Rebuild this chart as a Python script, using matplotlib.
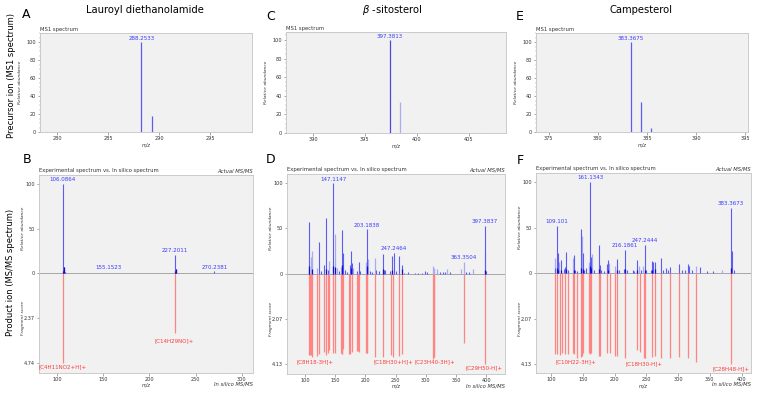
import matplotlib
matplotlib.use("Agg")
import matplotlib.pyplot as plt
from matplotlib.ticker import MultipleLocator

# ---- MS1 (precursor) spectra ----
a_mz = [288.2533, 289.2567]
a_int = [100, 18]
c_mz = [397.3813, 398.3847]
c_int = [100, 33]
e_mz = [383.3675, 384.3709, 385.3740]
e_int = [100, 33, 4]

# ---- MS/MS: Lauroyl diethanolamide (B) ----
b_mz = [106.0864, 107.09, 108.09, 109.1, 122.0, 155.1523, 227.2011, 228.2, 229.2, 270.2381, 290.0]
b_int = [100, 7, 2, 1, 0.5, 0.6, 21, 5, 1.5, 2.5, 0.5]
b_dark_mz = [106.0864, 107.09, 227.2011, 228.2]
b_dark_int = [3, 7, 3, 5]
b_frag_mz = [106.0864, 227.2011]
b_frag_score = [4.74, 3.16]
b_score_ticks = ["2.37", "4.74"]
b_tags = ["106.0864", "155.1523", "227.2011", "270.2381"]
b_tag_mz = [106.0864, 155.1523, 227.2011, 270.2381]
b_tag_y = [100, 2, 21, 2]
b_frag_tags = ["[C4H11NO2+H]+", "[C14H29NO]+"]
b_frag_tag_mz = [106.0864, 227.2011]
b_frag_tag_y = [-104.8, -75]

# ---- MS/MS: beta-sitosterol (D) ----
d_mz = [106.3, 107.4, 124.0, 126.7, 131.7, 135.5, 137.7, 147.1, 157.0, 162.0, 163.1, 166.4,
        169.2, 174.1, 175.8, 177.4, 185.7, 189.0, 191.2, 203.3, 207.7, 211.0, 217.7, 222.1,
        229.8, 231.5, 233.1, 240.8, 243.6, 246.9, 250.2, 256.3, 260.1, 264.0, 271.1, 282.2,
        287.7, 293.2, 298.7, 302.6, 323.5, 327.9, 331.8, 340.0, 366.5, 372.0, 397.38, 398.5, 400.1]
d_int = [5, 57, 35, 3, 10, 62, 4, 100, 3, 48, 23, 4,
         2, 9, 25, 12, 3, 13, 3, 49, 3, 2, 4, 3,
         22, 4, 4, 3, 20, 23, 3, 19, 10, 1, 2, 1,
         1, 1, 3, 2, 2, 2, 2, 2, 2, 2, 53, 25, 3]
d_light_mz = [109.6, 111.8, 120.1, 139.9, 149.3, 153.7, 160.3, 180.2, 201.1, 205.0, 215.5,
              312.5, 314.1, 318.0, 334.5, 357.7, 363.35, 377.5]
d_light_int = [18, 25, 6, 14, 44, 6, 7, 6, 13, 16, 17,
               8, 6, 5, 5, 5, 13, 5]
d_dark_mz = [107.4, 111.8, 135.5, 147.1, 149.3, 162.0, 175.8, 203.3, 229.8, 243.6, 260.1, 397.4]
d_dark_int = [8, 5, 5, 8, 7, 10, 6, 8, 5, 4, 5, 4]
d_frag_mz = [106.3, 108.0, 110.2, 111.8, 120.6, 122.9, 131.1, 135.5, 137.7, 140.5, 147.1, 149.3,
             159.2, 160.9, 162.0, 163.1, 173.6, 175.2, 178.0, 186.8, 188.5, 190.1, 200.6, 202.2,
             203.3, 215.5, 229.8, 243.0, 246.3, 256.3, 260.1, 311.4, 313.0, 314.1, 362.7, 397.4]
d_frag_score = [3.72, 3.72, 3.72, 3.84, 3.76, 3.68, 3.59, 3.72, 3.63, 3.51, 3.63, 3.63,
                3.63, 3.68, 3.68, 3.47, 3.68, 3.68, 3.59, 3.55, 3.55, 3.59, 3.63, 3.63,
                3.63, 3.84, 3.80, 3.74, 3.80, 3.76, 3.70, 3.90, 3.82, 3.82, 3.18, 4.13]
d_score_ticks = ["2.07", "4.13"]
d_tags = ["147.1147", "203.1838", "247.2464", "363.3504", "397.3837"]
d_tag_mz = [147.1147, 203.1838, 247.2464, 363.3504, 397.3837]
d_tag_y = [100, 49, 23, 13, 53]
d_frag_tags = ["[C8H18-3H]+", "[C18H30+H]+", "[C23H40-3H]+", "[C29H50-H]+"]
d_frag_tag_mz = [116.8, 246.3, 315.2, 396.8]
d_frag_tag_y = [-97.8, -97.8, -97.8, -105]

# ---- MS/MS: Campesterol (F) ----
f_mz = [106.5, 109.1, 110.2, 115.0, 120.3, 121.8, 123.9, 126.5, 135.9, 137.5, 140.1, 147.5,
        150.1, 151.7, 154.3, 161.13, 162.7, 166.9, 175.3, 176.9, 179.0, 182.7, 187.9, 189.5,
        203.2, 207.4, 214.2, 216.19, 218.9, 228.4, 231.0, 234.7, 241.5, 247.24, 249.4, 256.8,
        258.8, 261.0, 263.6, 273.6, 276.7, 280.9, 284.6, 287.7, 301.9, 305.6, 310.9, 316.1,
        317.7, 321.4, 334.5, 346.1, 355.5, 383.37, 384.9, 388.5]
f_int = [6, 52, 22, 14, 5, 7, 23, 3, 20, 3, 2, 48,
         22, 3, 6, 100, 18, 3, 31, 9, 4, 2, 10, 14,
         16, 3, 5, 26, 3, 3, 2, 15, 3, 31, 4, 3,
         13, 12, 12, 17, 3, 6, 4, 7, 10, 3, 4, 10,
         8, 3, 7, 2, 2, 72, 24, 4]
f_light_mz = [105.4, 112.6, 133.8, 149.0, 159.0, 164.3, 191.6, 201.1, 238.9, 245.2, 328.2, 368.7]
f_light_int = [17, 12, 17, 41, 12, 21, 11, 8, 8, 8, 8, 3]
f_dark_mz = [109.1, 110.2, 115.0, 123.9, 135.9, 147.5, 150.1, 161.1, 162.7, 175.3, 189.5,
             203.2, 216.2, 234.7, 247.2, 258.8, 263.6, 383.4]
f_dark_int = [6, 4, 3, 5, 4, 6, 5, 8, 6, 5, 4, 4, 5, 3, 4, 4, 5, 6]
f_frag_mz = [105.4, 109.1, 113.8, 117.0, 122.3, 125.9, 133.8, 135.4, 140.1, 147.0, 149.0, 150.6,
             159.0, 161.1, 162.7, 175.3, 176.9, 187.4, 192.1, 200.5, 203.2, 215.8, 235.7, 239.9,
             245.7, 247.3, 258.3, 263.6, 273.6, 287.7, 301.9, 316.1, 328.2, 383.4]
f_frag_score = [3.66, 3.67, 3.71, 3.60, 3.66, 3.66, 3.63, 3.67, 3.83, 3.78, 3.75, 3.63,
                3.63, 3.66, 3.63, 3.74, 3.74, 3.60, 3.60, 3.74, 3.74, 3.86, 3.47, 3.58,
                3.86, 3.86, 3.78, 3.74, 3.86, 3.86, 3.78, 3.83, 4.04, 4.13]
f_score_ticks = ["2.07", "4.13"]
f_tags = ["109.101", "161.1343", "216.1861", "247.2444", "383.3673"]
f_tag_mz = [109.101, 161.1343, 216.1861, 247.2444, 383.3673]
f_tag_y = [52, 100, 26, 31, 72]
f_frag_tags = ["[C10H22-3H]+", "[C18H30-H]+", "[C28H48-H]+"]
f_frag_tag_mz = [139.1, 246.2, 383.4]
f_frag_tag_y = [-97.8, -99, -105]

BG = "#f1f1f1"
EDGE = "#c4c4c4"
BLUE = "#5c5cf2"
LIGHT = "#a8abf4"
DARK = "#1010c8"
RED = "#ff8585"
TXT_BLUE = "#3a3aff"
TXT_RED = "#ff3a3a"

W, H = 758, 394
fig = plt.figure(figsize=(W / 100, H / 100), dpi=100)


def box(l, t, r, b):
    ax = fig.add_axes([l / W, 1 - b / H, (r - l) / W, (b - t) / H])
    ax.set_facecolor(BG)
    for s in ax.spines.values():
        s.set_color(EDGE)
        s.set_linewidth(0.6)
    ax.tick_params(labelsize=3.6, length=1.8, width=0.4, color="#666666", pad=1,
                   labelcolor="#333333")
    ax.tick_params(which="minor", length=1.0, width=0.3, color="#888888")
    return ax


def ms1(ax, mz, inten, colors, xlim, ylim, xmajor):
    ax.vlines(mz, 0, inten, colors=colors, lw=0.9)
    ax.set_xlim(xlim)
    ax.set_ylim(ylim)
    ax.xaxis.set_major_locator(MultipleLocator(xmajor))
    ax.xaxis.set_minor_locator(MultipleLocator(1))
    ax.yaxis.set_major_locator(MultipleLocator(20))
    ax.yaxis.set_minor_locator(MultipleLocator(5))
    ax.text(mz[0], inten[0] + 1.5, "%.4f" % mz[0], color=TXT_BLUE, fontsize=4,
            ha="center", va="bottom")
    ax.text(0, 1.01, "MS1 spectrum", transform=ax.transAxes, fontsize=3.8,
            va="bottom", ha="left", color="#333333")
    ax.set_xlabel("m/z", fontsize=3.5, style="italic", labelpad=1.5, color="#333333")
    ax.set_ylabel("Relative abundance", fontsize=3.2, style="italic", labelpad=3,
                  color="#333333")


def msms(ax, mz, inten, lmz, lint, dmz, dint, fmz, fscore, smax, sticks, xlim, ylim,
         tags, tag_mz, tag_y, ftags, ftag_mz, ftag_y):
    ax.axhline(0, color="#9a9a9a", lw=0.6, zorder=1)
    ax.vlines(lmz, 0, lint, colors=LIGHT, lw=0.9, zorder=2)
    ax.vlines(mz, 0, inten, colors=BLUE, lw=0.8, zorder=3)
    ax.vlines(dmz, 0, dint, colors=DARK, lw=0.9, zorder=4)
    ax.vlines(fmz, 0, [-s / smax * 100 for s in fscore], colors=RED, lw=0.9, zorder=2)
    ax.set_xlim(xlim)
    ax.set_ylim(ylim)
    ax.xaxis.set_major_locator(MultipleLocator(50))
    ax.xaxis.set_minor_locator(MultipleLocator(10))
    ax.set_yticks([100, 50, 0, -50, -100])
    ax.set_yticklabels(["100", "50", "0"] + sticks)
    for t, x, y in zip(tags, tag_mz, tag_y):
        ax.text(x, y + 2, t, color=TXT_BLUE, fontsize=4, ha="center", va="bottom", zorder=5)
    for t, x, y in zip(ftags, ftag_mz, ftag_y):
        ax.text(x, y, t, color=TXT_RED, fontsize=4, ha="center", va="center", zorder=5)
    ax.text(0, 1.01, "Experimental spectrum vs. In silico spectrum", transform=ax.transAxes,
            fontsize=3.8, va="bottom", ha="left", color="#333333")
    ax.text(1, 1.01, "Actual MS/MS", transform=ax.transAxes, fontsize=3.8,
            style="italic", va="bottom", ha="right", color="#333333")
    ax.text(1, -0.045, "In silico MS/MS", transform=ax.transAxes, fontsize=3.8,
            style="italic", va="top", ha="right", color="#333333")
    ax.text(0.5, -0.05, "m/z", transform=ax.transAxes, fontsize=3.5,
            style="italic", va="top", ha="center", color="#333333")
    tr = ax.get_yaxis_transform()
    ax.text(-0.075, 50, "Relative abundance", transform=tr, rotation=90, fontsize=3.2,
            style="italic", va="center", ha="center", color="#333333")
    ax.text(-0.075, -50, "Fragment score", transform=tr, rotation=90, fontsize=3.2,
            style="italic", va="center", ha="center", color="#333333")


# top row
axA = box(40, 33, 252, 132)
ms1(axA, a_mz, a_int, [BLUE, BLUE], (278.3, 299.1), (0, 110.5), 5)
axC = box(286, 32, 506, 133)
ms1(axC, c_mz, c_int, ["#4a4ae0", "#a8aef0"], (387.4, 408.6), (0, 108.5), 5)
axE = box(536, 33, 748, 132)
ms1(axE, e_mz, e_int, [BLUE, BLUE, BLUE], (373.7, 395.3), (0, 110), 5)

# bottom row
axB = box(39, 175, 253, 373)
msms(axB, b_mz, b_int, [], [], b_dark_mz, b_dark_int,
     b_frag_mz, b_frag_score, 4.74, b_score_ticks, (80.5, 312), (-111.5, 110),
     b_tags, b_tag_mz, b_tag_y, b_frag_tags, b_frag_tag_mz, b_frag_tag_y)
axD = box(287, 174, 505, 374)
msms(axD, d_mz, d_int, d_light_mz, d_light_int, d_dark_mz, d_dark_int,
     d_frag_mz, d_frag_score, 4.13, d_score_ticks, (70.5, 431), (-111.4, 110.4),
     d_tags, d_tag_mz, d_tag_y, d_frag_tags, d_frag_tag_mz, d_frag_tag_y)
axF = box(536, 173, 751, 373)
msms(axF, f_mz, f_int, f_light_mz, f_light_int, f_dark_mz, f_dark_int,
     f_frag_mz, f_frag_score, 4.13, f_score_ticks, (76, 414.9), (-109.6, 110),
     f_tags, f_tag_mz, f_tag_y, f_frag_tags, f_frag_tag_mz, f_frag_tag_y)


# panel letters, compound titles, row labels (pixel positions)
def ftext(x, y, s, **kw):
    fig.text(x / W, 1 - y / H, s, ha="center", va="center", **kw)


for letter, x, y in [("A", 26.5, 14.5), ("C", 271, 17), ("E", 519.5, 17),
                     ("B", 27, 159), ("D", 271, 159), ("F", 520, 160)]:
    ftext(x, y, letter, fontsize=9)

ftext(145, 10, "Lauroyl diethanolamide", fontsize=7.2)
ftext(392, 10, r"$\beta$ -sitosterol", fontsize=7.2)
ftext(641, 10, "Campesterol", fontsize=7.2)
ftext(12, 75, "Precursor ion (MS1 spectrum)", fontsize=6, rotation=90)
ftext(11, 272, "Product ion (MS/MS spectrum)", fontsize=6, rotation=90)

fig.savefig("out.png", dpi=100, facecolor="white")
